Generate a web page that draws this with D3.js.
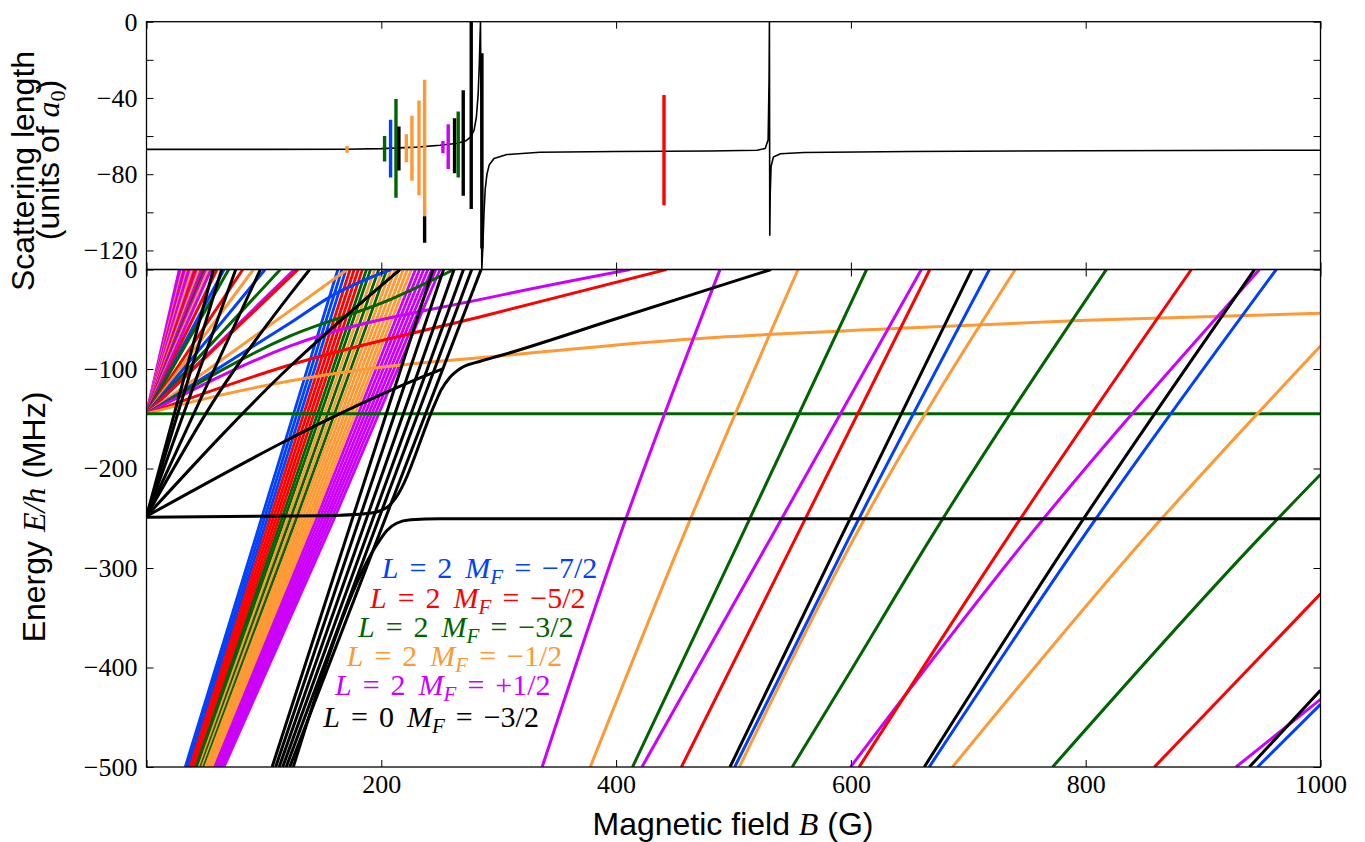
<!DOCTYPE html>
<html><head><meta charset="utf-8">
<script src="https://cdn.jsdelivr.net/npm/d3@7"></script>
<style>body{margin:0;background:#fff}svg{display:block}</style>
</head><body>
<svg id="chart" width="1365" height="842"></svg>
<script>
// ================= DATA =================
const fieldTickValues = [0, 200, 400, 600, 800, 1000];
const fieldTickLabels = ["", "200", "400", "600", "800", "1000"];
const scatTickValues = [0, -20, -40, -60, -80, -100, -120];
const scatTickLabels = ["0", "", "\u221240", "", "\u221280", "", "\u2212120"];
const energyTickValues = [0, -100, -200, -300, -400, -500];
const energyTickLabels = ["0", "\u2212100", "\u2212200", "\u2212300", "\u2212400", "\u2212500"];

// series: 0 L=2 MF=-7/2, 1 L=2 MF=-5/2, 2 L=2 MF=-3/2, 3 L=2 MF=-1/2, 4 L=2 MF=+1/2, 5 L=0 MF=-3/2
const legendL = ["2", "2", "2", "2", "2", "0"];
const legendMF = ["\u22127/2", "\u22125/2", "\u22123/2", "\u22121/2", "+1/2", "\u22123/2"];

// scattering length (a0) vs B (G), black curve
const scatteringCurve = [
  [0,-67],[100,-67],[170,-66.9],[200,-66.6],[230,-65.8],[250,-64.8],[265,-63.8],[272,-62.5],[276,-60.5],
  [279,-57],[281,-50],[282.5,-38],[283.5,-22],[284.2,-6],[284.5,0],
  [285.6,-130],[286.5,-118],[287.5,-100],[288.5,-88],[290,-80],[292,-75],[296,-71.8],[307,-69.7],
  [335,-68.5],[400,-68.1],[480,-67.8],[520,-67.4],[527,-66.5],[529.5,-62],[530.3,-30],[530.6,0],
  [530.9,-112],[531.3,-90],[532,-76],[534,-71],[540,-69.3],[560,-68.6],[650,-68.1],[800,-67.7],[1000,-67.4]
];
// narrow resonances: [B, a_top, a_bottom, series]
const resonanceBars = [
  [170.8,-65.2,-68.7,3],[202.8,-59.9,-73.4,2],[207.9,-51.5,-81.8,0],[212.5,-40.6,-92.3,2],
  [215.0,-55,-78.1,5],[221.3,-59,-73.8,3],[226.1,-49.4,-83.4,3],[232.1,-41.3,-91,3],
  [236.9,-30.5,-102,3],[236.9,-102,-116,5],[252.5,-62.6,-69,4],[257,-53.8,-77.3,4],
  [262.4,-50.6,-79.5,5],[265.5,-47.1,-81.8,2],[269.8,-36,-91.3,5],[276.6,0,-98.3,5],
  [285.7,-16.5,-119,5],[440.8,-38.5,-96.3,1]
];

// thresholds (MHz)
const upperThreshold = -145;
const lowerThreshold = -248;

// L=2 band of steep levels: [series, B at E=-500, B at E=-250, B at E=0]
const l2BandLines = [
  [0,33.0,98.0,163.0],[0,34.3,100.5,166.5],[0,35.6,103.0,170.0],
  [1,37.0,105.4,173.4],[1,38.3,107.9,176.9],[1,39.6,110.4,180.4],[1,40.9,112.9,183.9],
  [2,42.2,115.4,187.4],[2,43.6,117.8,190.8],[3,44.9,120.3,194.3],[2,46.2,122.8,197.8],
  [3,47.5,125.3,201.3],[2,48.8,127.8,204.8],[3,50.2,130.2,208.2],[3,51.5,132.7,211.7],[3,52.8,135.2,215.2],
  [3,54.1,137.7,218.7],[3,55.4,140.2,222.2],[3,56.8,142.6,225.6],
  [4,58.1,145.1,229.1],[4,59.4,147.6,232.6],[4,60.7,150.1,236.1],[4,62.0,152.6,239.6],[4,63.4,155.0,243.0],
  [4,64.7,157.5,246.5],[4,66.0,160.0,250.0]
];

// levels fanning from upper threshold, straight to E=0: [series, B at E=0]
const upperFanLines = [
  [4,28],[4,30],[3,31],[4,32],[1,33.5],[4,34],[3,35],[4,36],[4,38.5],[3,39],[4,41],[1,42],
  [4,44],[3,45],[0,47],[4,47],[1,49],[2,50],[4,51],[3,53],[4,55],[1,60],[0,66],[2,70],
  [1,82],[3,91],[0,101],[2,114],[4,126],[1,129],[3,171]
];

// curved shallow levels from the upper threshold: [series, points]
const shallowLevels = [
  [0, [[0,-145],[122,-54],[160,-25],[208,0]]],
  [2, [[0,-145],[122,-67],[208,-30],[262,0]]],
  [4, [[0,-145],[122,-77],[297,-27],[412,0]]],
  [1, [[0,-145],[122,-96],[293,-45],[443,0]]],
  [3, [[0,-145],[60,-127],[122,-112],[188,-100],[300,-87],[450,-71],[642,-59],[800,-51],[1000,-44]]],
  [2, [[0,-145],[1000,-145]]]
];

// deeper levels crossing the right part: [series, points]
const deepLevels = [
  [4, [[337,-500],[402,-271.5],[488.5,0]]],
  [3, [[378,-500],[456,-271.5],[555,0]]],
  [2, [[414,-500],[505.5,-271.5],[613.4,0]]],
  [4, [[422,-500],[531,-271.5],[660,0]]],
  [1, [[455.6,-500],[552.3,-271.5],[667.2,0]]],
  [5, [[497,-500],[590.6,-271.5],[703,0]]],
  [0, [[501,-500],[597.7,-271.5],[718,0]]],
  [3, [[505,-500],[602,-271.5],[740,0]]],
  [2, [[550,-500],[599,-405],[667.2,-271.5],[817.6,0]]],
  [4, [[599.7,-500],[749.5,-271.5],[948,0]]],
  [1, [[607,-500],[732.5,-271.5],[890,0]]],
  [5, [[662.5,-500],[786.4,-271.5],[943.8,0]]],
  [0, [[666.7,-500],[796.3,-271.5],[962.3,0]]],
  [3, [[686.5,-500],[848.8,-271.5],[1000,-77]]],
  [2, [[771.8,-500],[946.6,-271.5],[1000,-206]]],
  [1, [[858.5,-500],[1000,-326]]],
  [4, [[928,-500],[1000,-432]]],
  [5, [[939.4,-500],[1000,-423]]],
  [0, [[946.4,-500],[1000,-437]]]
];

// L=0 (black) levels
const lowerFanEnds = [57, 64, 76, 97];           // straight from lower threshold to E=0
const blackBandLines = [[107,244],[110,253],[113,262],[116,270],[119,277],[122,285]]; // B at E=-500, B at E=0
const blackCurvedLevels = [
  [[0,-248],[60,-127],[123,-24],[139,0]],
  [[0,-248],[122.6,-97],[216,0]],
  [[0,-248],[235,-108],[252,-100]],
  [[0,-249],[150,-247.5],[190,-245],[200,-242],[206,-238],[212,-230],[246,-134],[251,-121],[258,-109],[268,-99],[285,-92],[300,-87],[400,-49.5],[532,0]],
  [[125,-500],[197,-275],[205,-262],[213,-255],[225,-251.5],[250,-250.5],[1000,-250.5]]
];

// ================= STYLE / LAYOUT =================
const colors = ["#0040ff","#ff0000","#006400","#ff9933","#cc00ff","#000000"];
const xLeft = 146.5, xRight = 1320.5, topY0 = 21.7, midY = 269.5, botY = 767;
const lw = 3, bandLw = 2.8;

const svg = d3.select("#chart");
const x = d3.scaleLinear().domain([0, 1000]).range([xLeft, xRight]);
const yTop = d3.scaleLinear().domain([-130, 0]).range([midY, topY0]);
const yBot = d3.scaleLinear().domain([-500, 0]).range([botY, midY]);

const defs = svg.append("defs");
defs.append("clipPath").attr("id","clipTop").append("rect")
  .attr("x", xLeft).attr("y", topY0).attr("width", xRight-xLeft).attr("height", midY-topY0);
defs.append("clipPath").attr("id","clipBot").append("rect")
  .attr("x", xLeft).attr("y", midY).attr("width", xRight-xLeft).attr("height", botY-midY);

// ---- top panel ----
const gT = svg.append("g").attr("clip-path","url(#clipTop)");
const lineTop = d3.line().x(d => x(d[0])).y(d => yTop(d[1]));
gT.append("path").datum(scatteringCurve).attr("d", lineTop)
  .attr("fill","none").attr("stroke","#000").attr("stroke-width",1.6).attr("stroke-linejoin","round");
gT.selectAll("line.bar").data(resonanceBars).join("line").attr("class","bar")
  .attr("x1", d => x(d[0])).attr("x2", d => x(d[0]))
  .attr("y1", d => yTop(d[1])).attr("y2", d => yTop(d[2]))
  .attr("stroke", d => colors[d[3]]).attr("stroke-width", 3.4);

// ---- bottom panel ----
const gB = svg.append("g").attr("clip-path","url(#clipBot)");
const lineBot = d3.line().x(d => x(d[0])).y(d => yBot(d[1])).curve(d3.curveMonotoneX);
function drawLevel(pts, s, w) {
  gB.append("path").datum(pts).attr("d", lineBot).attr("fill","none")
    .attr("stroke", colors[s]).attr("stroke-width", w).attr("stroke-linejoin","round");
}
l2BandLines.forEach(d => drawLevel([[d[1],-500],[d[2],-250],[d[3],0]], d[0], bandLw));
upperFanLines.forEach(d => drawLevel([[0,upperThreshold],[d[1],0]], d[0], lw));
shallowLevels.forEach(d => drawLevel(d[1], d[0], lw));
deepLevels.forEach(d => drawLevel(d[1], d[0], lw));
lowerFanEnds.forEach(b => drawLevel([[0,lowerThreshold],[b,0]], 5, lw));
blackBandLines.forEach(d => drawLevel([[d[0],-500],[d[1],0]], 5, lw));
blackCurvedLevels.forEach(p => drawLevel(p, 5, lw));

// ---- axes ----
function styleAxis(g) {
  g.select(".domain").remove();
  g.selectAll(".tick line").attr("stroke","#000").attr("stroke-width",1);
  g.attr("font-family","'Liberation Serif', serif").attr("font-size",26);
  g.selectAll(".tick text").attr("fill","#000");
}
const tick = -7;
svg.append("g").attr("transform",`translate(0,${botY})`)
  .call(d3.axisBottom(x).tickValues(fieldTickValues).tickFormat((d,i)=>fieldTickLabels[i]).tickSize(tick).tickPadding(8)).call(styleAxis);
svg.append("g").attr("transform",`translate(0,${midY})`)
  .call(d3.axisTop(x).tickValues(fieldTickValues).tickFormat("").tickSize(tick)).call(styleAxis);
svg.append("g").attr("transform",`translate(0,${midY})`)
  .call(d3.axisBottom(x).tickValues(fieldTickValues).tickFormat("").tickSize(tick)).call(styleAxis);
svg.append("g").attr("transform",`translate(0,${topY0})`)
  .call(d3.axisTop(x).tickValues(fieldTickValues).tickFormat("").tickSize(tick)).call(styleAxis);
svg.append("g").attr("transform",`translate(${xLeft},0)`)
  .call(d3.axisLeft(yBot).tickValues(energyTickValues).tickFormat((d,i)=>energyTickLabels[i]).tickSize(tick).tickPadding(9)).call(styleAxis);
svg.append("g").attr("transform",`translate(${xRight},0)`)
  .call(d3.axisRight(yBot).tickValues(energyTickValues).tickFormat("").tickSize(tick)).call(styleAxis);
svg.append("g").attr("transform",`translate(${xLeft},0)`)
  .call(d3.axisLeft(yTop).tickValues(scatTickValues).tickFormat((d,i)=>scatTickLabels[i]).tickSize(tick).tickPadding(9)).call(styleAxis);
svg.append("g").attr("transform",`translate(${xRight},0)`)
  .call(d3.axisRight(yTop).tickValues(scatTickValues).tickFormat("").tickSize(tick)).call(styleAxis);

// frames
[[topY0, midY],[midY, botY]].forEach(r => {
  svg.append("rect").attr("x", xLeft).attr("y", r[0]).attr("width", xRight-xLeft).attr("height", r[1]-r[0])
    .attr("fill","none").attr("stroke","#000").attr("stroke-width",1.3);
});

// ---- axis labels ----
const sans = "'Liberation Sans', Arial, sans-serif", serif = "'Liberation Serif', serif";
const xl = svg.append("text").attr("x", 733).attr("y", 835).attr("text-anchor","middle")
  .attr("font-family", sans).attr("font-size", 32).attr("fill","#000");
xl.append("tspan").text("Magnetic field ");
xl.append("tspan").attr("font-family", serif).attr("font-style","italic").text("B");
xl.append("tspan").text(" (G)");

const el = svg.append("text").attr("transform","translate(45,517) rotate(-90)").attr("text-anchor","middle")
  .attr("font-family", sans).attr("font-size", 32).attr("fill","#000");
el.append("tspan").text("Energy ");
el.append("tspan").attr("font-family", serif).attr("font-style","italic").text("E/h");
el.append("tspan").text(" (MHz)");

svg.append("text").attr("transform","translate(34,171) rotate(-90)").attr("text-anchor","middle")
  .attr("font-family", sans).attr("font-size", 32).attr("fill","#000").text("Scattering length");
const ul = svg.append("text").attr("transform","translate(59,160) rotate(-90)").attr("text-anchor","middle")
  .attr("font-family", sans).attr("font-size", 32).attr("fill","#000");
ul.append("tspan").text("(units of ");
ul.append("tspan").attr("font-family", serif).attr("font-style","italic").text("a");
ul.append("tspan").attr("font-family", serif).attr("font-size", 22).attr("dy", 6).text("0");
ul.append("tspan").attr("dy", -6).text(")");

// ---- series labels ----
const legX = [381.7, 370, 358, 346.7, 335, 323.3];
const legY = [578.3, 607.5, 636.7, 665.8, 695, 726.5];
legendL.forEach((Lv, i) => {
  const t = svg.append("text").attr("x", legX[i]).attr("y", legY[i])
    .attr("font-family", serif).attr("font-size", 30).attr("fill", colors[i]);
  t.append("tspan").attr("font-style","italic").text("L");
  t.append("tspan").attr("dx", 11).text("=");
  t.append("tspan").attr("dx", 11).text(Lv);
  t.append("tspan").attr("dx", 13).attr("font-style","italic").text("M");
  t.append("tspan").attr("font-style","italic").attr("font-size", 21).attr("dy", 6).text("F");
  t.append("tspan").attr("dx", 11).attr("dy", -6).text("=");
  t.append("tspan").attr("dx", 11).text(legendMF[i]);
});
</script>
</body></html>
